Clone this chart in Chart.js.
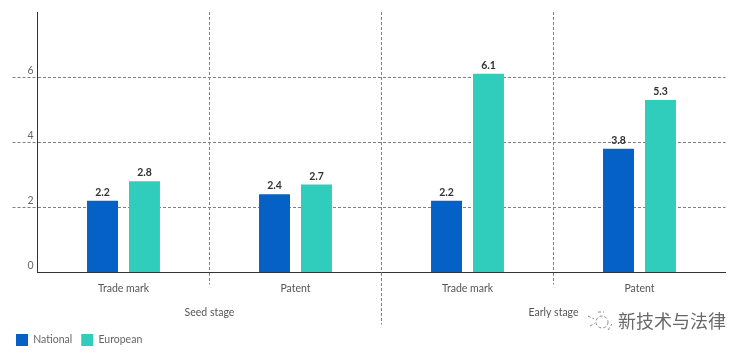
<!DOCTYPE html>
<html><head><meta charset="utf-8">
<style>
html,body{margin:0;padding:0;background:#fff;overflow:hidden}
#w{position:relative;width:749px;height:352px}
#m{position:absolute;left:618px;top:307px;font:18px "Noto Sans CJK SC";color:#6a6a6a;white-space:nowrap}
#i{position:absolute;left:584px;top:308px}
</style>
<script src="https://cdn.jsdelivr.net/npm/chart.js@4"></script>
</head><body>
<div id="w"><canvas id="c" width="749" height="352"></canvas>
<svg id="i" width="30" height="26" fill="none" stroke="#8a8a8a" stroke-width="1" stroke-dasharray="3 2"><circle cx="18" cy="14" r="6"/><path d="M4 8 L10 11 M6 18 L11 15 M24 22 L28 16 M14 4 L20 4"/></svg>
<span id="m">新技术与法律</span></div>
<script>
const categories = ['Trade mark','Patent','Trade mark','Patent'];
const stages = ['Seed stage','Early stage'];
const national = [2.2,2.4,2.2,3.8];
const european = [2.8,2.7,6.1,5.3];
const yMax = 8;
const FONT = 'Lato';
const dash = [3,2];
const gridCol = '#808080';
const valueLabels = {id:'valueLabels',afterDatasetsDraw(ch){
  const c=ch.ctx;c.save();c.font='bold 10.5px '+FONT;c.fillStyle='#333';c.textAlign='center';c.textBaseline='bottom';
  ch.data.datasets.forEach((d,i)=>ch.getDatasetMeta(i).data.forEach((b,j)=>c.fillText(d.data[j].toFixed(1),b.x,b.y-3)));
  c.restore();
}};
const hColor = ctx => (ctx.tick && ctx.tick.value>0 && ctx.tick.value<yMax) ? gridCol : 'transparent';
new Chart(document.getElementById('c'),{
  type:'bar',
  data:{labels:categories,datasets:[
    {label:'National',data:national,backgroundColor:'#0561c6',xAxisID:'x',yAxisID:'y'},
    {label:'European',data:european,backgroundColor:'#30cdbd',xAxisID:'x',yAxisID:'y'}
  ]},
  plugins:[valueLabels],
  options:{
    responsive:false,animation:false,
    categoryPercentage:0.488,barPercentage:0.738,
    layout:{padding:{left:7,right:23.5,top:12,bottom:-4}},
    plugins:{
      title:{display:false},tooltip:{enabled:false},
      legend:{position:'bottom',align:'start',
        labels:{boxWidth:12,boxHeight:12,padding:9,color:'#666',font:{family:FONT,size:10.5}}}
    },
    scales:{
      y:{min:0,max:yMax,
        afterFit(s){s.width=30.5;},
        border:{display:true,color:'#333',width:1,dash:dash},
        grid:{color:hColor,tickColor:hColor,tickLength:25,lineWidth:1,tickBorderDash:dash},
        ticks:{stepSize:2,padding:-21,labelOffset:-7,color:'#666',font:{family:FONT,size:10.5},
          callback:v=>v===yMax?'':String(v)}
      },
      stage:{type:'category',labels:stages,position:'bottom',weight:0,offset:true,
        afterFit(s){s.height=0;},
        border:{display:false},
        grid:{drawOnChartArea:false,tickLength:52,lineWidth:1,tickBorderDash:dash,
          tickColor:ctx=>ctx.index===1?gridCol:'transparent',color:'transparent'},
        ticks:{mirror:true,padding:-46,color:'#555',font:{family:FONT,size:10.5},maxRotation:0,autoSkip:false}
      },
      x:{offset:true,position:'bottom',weight:1,
        afterFit(s){s.height=52.5;},
        border:{display:true,color:'#333',width:1,dash:dash},
        grid:{lineWidth:1,tickLength:12,tickBorderDash:dash,
          color:ctx=>(ctx.index>0&&ctx.index<categories.length)?gridCol:'transparent',
          tickColor:ctx=>(ctx.index>0&&ctx.index<categories.length)?gridCol:'transparent'},
        ticks:{padding:-2,color:'#555',font:{family:FONT,size:10.5},maxRotation:0,autoSkip:false}
      }
    }
  }
});
</script>
</body></html>
